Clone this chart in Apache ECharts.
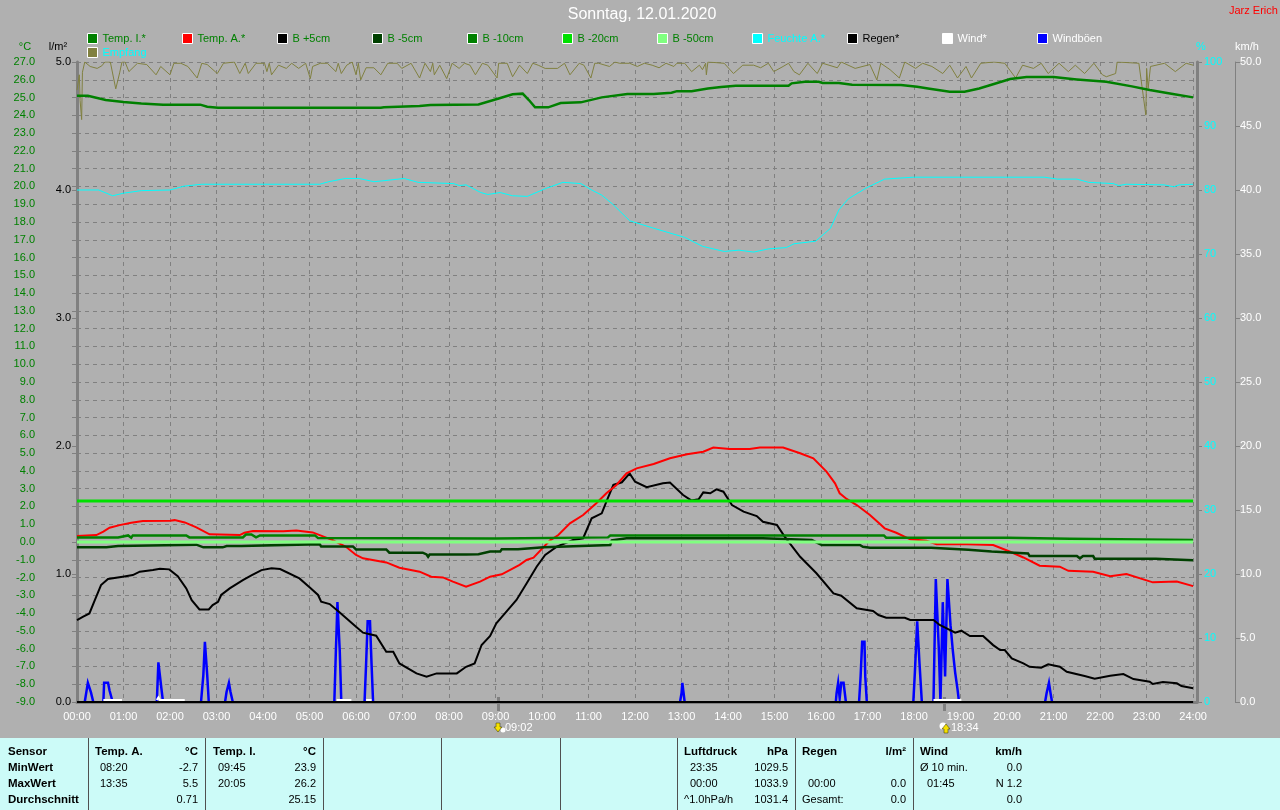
<!DOCTYPE html>
<html>
<head>
<meta charset="utf-8">
<title>Sonntag, 12.01.2020</title>
<style>
  html, body { margin: 0; padding: 0; background: #b0b0b0; }
  #chart { width: 1280px; height: 810px; }
</style>
</head>
<body>
<div id="chart"></div>
<script src="https://cdn.jsdelivr.net/npm/echarts@6/dist/echarts.min.js"></script>
<script>
// times are minutes after midnight
const tempITimes = [0,14,37,60,83,111,159,168,182,392,396,442,456,518,544,562,575,583,591,608,624,650,677,710,744,767,774,793,814,831,850,873,875,885,918,922,939,957,962,983,1000,1063,1084,1098,1126,1145,1164,1183,1204,1225,1260,1290,1328,1361,1384,1412,1440];
const tempIValues = [25.10,25.10,24.86,24.75,24.67,24.60,24.60,24.48,24.43,24.43,24.46,24.52,24.58,24.61,24.95,25.18,25.22,24.86,24.45,24.45,24.69,24.73,25.01,25.20,25.20,25.27,25.36,25.36,25.51,25.59,25.67,25.67,25.59,25.67,25.67,25.80,25.89,25.89,25.82,25.82,25.72,25.70,25.61,25.51,25.33,25.33,25.51,25.76,26.04,26.15,26.15,26.02,25.89,25.63,25.42,25.22,25.01];

const tempATimes = [0,25,34,42,55,70,85,120,126,139,154,171,210,216,227,266,283,304,330,347,360,369,399,416,442,457,472,485,502,520,533,548,571,580,589,610,621,636,653,670,683,696,709,722,744,765,787,808,821,842,868,881,911,933,950,967,978,984,993,1006,1023,1036,1042,1057,1075,1096,1109,1148,1182,1204,1221,1242,1268,1279,1311,1333,1354,1388,1419,1440];
const tempAValues = [0.34,0.39,0.58,0.80,0.95,1.08,1.18,1.20,1.23,1.10,0.82,0.43,0.39,0.52,0.62,0.60,0.64,0.54,0.11,-0.27,-0.73,-0.92,-1.15,-1.45,-1.67,-1.95,-1.99,-2.23,-2.52,-2.23,-1.95,-1.82,-1.29,-1.01,-0.88,0.08,0.39,1.05,1.52,2.18,2.74,3.21,3.86,4.14,4.39,4.71,4.93,5.08,5.31,5.23,5.23,5.31,5.31,4.99,4.71,3.96,3.30,2.74,2.42,2.08,1.52,1.01,0.77,0.52,0.15,0.07,-0.13,-0.13,-0.17,-0.55,-0.87,-1.33,-1.39,-1.62,-1.67,-1.92,-1.80,-2.27,-2.22,-2.48];

const soil5Times = [0,8,16,23,31,40,59,72,81,98,107,119,130,141,148,158,170,175,182,186,197,214,225,238,251,262,287,300,311,315,326,339,360,369,386,399,408,416,438,451,464,490,502,513,522,533,541,554,567,580,593,604,619,640,653,664,677,683,692,703,713,720,735,756,765,782,793,802,808,817,825,834,845,860,877,885,903,913,933,954,976,986,1006,1027,1034,1044,1068,1075,1105,1113,1122,1133,1141,1152,1169,1182,1191,1197,1206,1221,1229,1244,1253,1268,1277,1300,1313,1333,1350,1363,1384,1388,1401,1419,1425,1440];
const soil5Values = [-4.39,-4.20,-4.02,-3.27,-2.42,-2.08,-1.95,-1.86,-1.67,-1.58,-1.50,-1.54,-1.92,-2.61,-3.27,-3.79,-3.79,-3.55,-3.36,-2.98,-2.61,-2.14,-1.88,-1.58,-1.48,-1.52,-2.05,-2.55,-2.98,-3.36,-3.49,-3.96,-4.77,-5.10,-5.27,-6.17,-6.17,-6.83,-7.39,-7.58,-7.39,-7.39,-7.02,-6.83,-5.79,-5.29,-4.58,-3.92,-3.26,-2.33,-1.39,-0.73,-0.26,0.11,0.21,1.33,1.61,2.27,3.21,3.36,3.86,3.39,3.08,3.30,3.34,2.64,2.33,2.40,2.79,2.74,2.96,2.83,2.08,1.71,1.46,1.14,0.96,0.30,-0.83,-1.76,-2.89,-3.02,-3.73,-3.88,-4.11,-4.26,-4.26,-4.39,-4.39,-4.67,-4.86,-5.10,-4.99,-5.29,-5.29,-5.80,-6.08,-6.08,-6.55,-6.83,-7.02,-7.07,-6.88,-7.02,-7.30,-7.54,-7.69,-7.52,-7.43,-7.71,-7.86,-7.99,-7.88,-7.95,-8.10,-8.23];

const soilM5Times = [0,38,40,53,55,154,163,188,193,212,214,313,315,356,360,399,403,446,451,453,455,502,518,533,546,548,569,571,602,688,690,709,885,948,961,1010,1014,1023,1053,1062,1102,1104,1150,1152,1180,1182,1227,1229,1290,1294,1298,1311,1313,1392,1394,1440];
const soilM5Values = [-0.30,-0.30,-0.23,-0.23,-0.15,-0.15,-0.30,-0.30,-0.23,-0.23,-0.12,-0.12,-0.25,-0.25,-0.42,-0.42,-0.60,-0.60,-0.70,-0.83,-0.70,-0.70,-0.69,-0.54,-0.54,-0.41,-0.41,-0.30,-0.30,-0.17,0.09,0.21,0.21,0.11,-0.17,-0.17,-0.27,-0.32,-0.32,-0.32,-0.32,-0.43,-0.43,-0.53,-0.53,-0.64,-0.64,-0.79,-0.79,-0.92,-0.79,-0.79,-0.94,-0.94,-1.03,-1.03];

const soilM10Times = [0,53,55,66,70,72,141,145,214,218,225,231,236,307,311,539,541,685,688,1041,1044,1201,1203,1281,1283,1440];
const soilM10Values = [0.26,0.26,0.37,0.37,0.24,0.37,0.37,0.26,0.26,0.42,0.42,0.26,0.37,0.37,0.22,0.20,0.26,0.26,0.37,0.37,0.24,0.24,0.18,0.18,0.11,0.11];

const soilM20Times = [0,1440];
const soilM20Values = [2.3,2.3];
const soilM50Times = [0,1440];
const soilM50Values = [0.0,0.0];

const humidityTimes = [0,28,46,60,83,120,138,161,313,325,346,364,383,392,422,440,486,493,502,521,530,546,562,581,604,627,650,664,677,691,713,742,784,807,835,854,873,892,915,925,953,972,983,995,1018,1042,1079,1248,1265,1290,1305,1337,1344,1354,1403,1415,1422,1440];
const humidityValues = [80.0,80.0,79.1,79.5,79.9,80.0,80.6,80.9,80.9,81.3,81.8,81.8,81.3,81.4,81.8,81.2,81.0,80.7,80.8,79.6,79.3,79.6,79.1,79.0,80.2,81.2,81.0,80.0,79.2,77.8,75.2,74.1,72.6,71.2,70.4,70.6,70.3,70.8,71.0,71.6,72.0,74.0,76.9,78.6,80.3,81.7,82.0,82.0,81.7,81.7,81.2,81.0,80.7,80.9,80.8,80.5,80.8,80.9];

const signalTimes = [0,3,4,6,7,10,17,26,32,36,43,50,55,58,62,67,78,90,102,108,120,125,134,143,155,161,168,181,189,203,210,217,221,231,242,245,248,251,260,270,277,286,295,301,304,314,323,334,337,341,348,355,360,363,366,373,383,392,401,413,419,431,442,449,456,459,461,468,477,484,493,500,507,514,523,530,542,544,555,562,571,581,588,595,604,620,629,636,648,654,663,668,673,687,694,700,713,723,732,742,751,760,770,774,784,793,803,807,811,812,814,835,847,859,873,882,892,899,911,918,925,932,943,955,962,981,986,1004,1023,1032,1037,1049,1061,1068,1082,1091,1103,1117,1126,1136,1147,1154,1166,1183,1197,1211,1220,1234,1244,1253,1267,1279,1288,1300,1312,1323,1328,1340,1342,1370,1379,1380,1382,1385,1403,1417,1431,1440];
const signalValues = [95.6,98,94,91,98.4,100,99.3,99,99.4,100,100,95.8,98.3,100,100,98.5,99.8,99.6,98,99.3,98,99.8,99.8,99.3,97.5,99.8,99.6,98.2,99.8,100,98.2,99.8,98.2,99.8,99.8,98.5,99.8,98,99.5,99,99.8,99,99.8,97.4,99.3,99.8,99.8,98.5,99.8,98.2,99.5,100,98,99.8,97.2,99.1,99.1,98,99.8,99.8,99,99.8,97.5,99.8,98.5,99.8,98,99.5,97.4,99.8,99,99.8,99.5,98,99.8,99.5,97.5,99.8,99.8,97.7,99.5,98.2,99.8,99.5,99,99,99.8,98,99.8,99.5,97.5,99.8,99.8,99.3,100,99.8,99.8,99.3,99.8,99.5,99.1,99.8,99.3,99.8,99.8,98.5,99.5,98.8,99.8,98,100,99.8,98.2,99.5,99.5,99.1,99.8,98.5,99.3,99.8,98.5,98,99.8,98.2,99.8,99.1,100,99,99.6,97.2,99.8,98.8,97.5,100,99,99.8,99.3,98.2,99.5,97.5,99.3,97.5,99.8,100,99.8,97.5,99.5,99,99.8,98.2,99.8,98.5,99.5,98.2,99.8,98,97.7,98.2,100,99.8,91.7,99,95.9,99.3,99.8,98.5,99.8,99.5];

const rainTimes = [0,1440];
const rainValues = [0.0,0.0];

// null breaks the line where there was no wind
const windTimes = [34,58,59,103,105,107,139,140,335,354,355,373,380,381,1105,1141];
const windValues = [0.15,0.15,null,0.15,0.35,0.15,0.15,null,0.15,0.15,null,0.15,0.15,null,0.15,0.15];

const gustTimes = [10,12,14,16,18,21,28,34,35,40,42,46,75,103,105,107,109,111,140,160,163,165,166,168,170,180,191,193,196,198,201,270,332,334,335,336,338,339,341,355,371,373,375,378,380,382,580,778,780,781,783,784,880,979,980,982,983,984,986,989,992,1000,1009,1011,1013,1016,1017,1019,1050,1079,1081,1084,1086,1087,1090,1098,1105,1108,1110,1112,1113,1114,1117,1118,1120,1123,1125,1127,1130,1133,1136,1138,1190,1249,1251,1254,1256,1258];
const gustValues = [0,0.75,1.5,1.5,0.75,0,null,0,1.5,1.5,0.9,0,null,0,3.1,3.1,1.0,0,null,0,2.1,4.7,4.7,2.1,0,null,0,0.8,1.5,0.8,0,null,0,4.0,5.8,7.8,7.8,4.0,0,null,0,3.0,6.3,6.3,3.0,0,null,0,0.7,1.5,1.5,0,null,0,0.7,1.5,1.5,0.3,1.5,1.5,0,null,0,2.0,4.7,4.7,2.0,0,null,0,2.3,6.3,6.3,3.0,0,null,0,9.6,9.6,4.0,2.0,0,7.8,7.8,2.0,9.6,9.6,6.0,4.0,2.3,1.0,0,null,0,0.7,1.5,0.7,0];

const legendNames = ['Temp. I.*','Temp. A.*','B +5cm','B -5cm','B -10cm','B -20cm','B -50cm','Feuchte A.*','Regen*','Wind*','Windböen','Empfang'];
const legendColors = ['#008000','#ff0000','#000000','#004000','#008000','#00e000','#80ff80','#00ffff','#000000','#ffffff','#0000ff','#808040'];
const legendTextColors = ['#008000','#008000','#008000','#008000','#008000','#008000','#008000','#00ffff','#000000','#ffffff','#ffffff','#00ffff'];

const sensorRows = ['Sensor','MinWert','MaxWert','Durchschnitt'];
const columnXs = [88,205,323,441,560,677,795,913];

const zip = (times, values) => times.map((t, i) => [t, values[i]]);
const pad = (n) => String(n).padStart(2, '0');

const FONT = '"Liberation Sans", Arial, sans-serif';
const GRID = { left: 77, right: 83, top: 62, bottom: 108 };
const rowY = [752, 768, 784, 800];

const chart = echarts.init(document.getElementById('chart'));

const lineSeries = (name, times, values, color, width, yAxisIndex, z) => ({
    name, type: 'line', xAxisIndex: 0, yAxisIndex, z,
    data: zip(times, values),
    showSymbol: false, symbol: 'none', smooth: false, animation: false,
    silent: true, connectNulls: false,
    lineStyle: { color, width, cap: 'butt', join: 'miter' },
    itemStyle: { color }
});

// one legend per item, they sit on a fixed 95px raster
const legends = legendNames.map((name, i) => {
    const last = i === legendNames.length - 1;
    return {
        left: last ? 87 : 87 + i * 95,
        top: last ? 47 : 33,
        selectedMode: false,
        icon: 'rect',
        itemWidth: 10,
        itemHeight: 10,
        textStyle: { color: legendTextColors[i], fontFamily: FONT, fontSize: 11, padding: [1, 0, 0, 0] },
        itemStyle: { color: legendColors[i], borderColor: '#fff', borderWidth: 1 },
        padding: 0,
        data: [name]
    };
});

const txt = (x, y, text, fill, opts) => ({
    type: 'text', silent: true, z: 20,
    style: Object.assign({ x, y, text, fill, font: '11px ' + FONT, textAlign: 'left', textVerticalAlign: 'middle' }, opts || {})
});
const bold = { font: 'bold 11.5px ' + FONT };
const right = { textAlign: 'right' };

const panelTexts = [
    ...sensorRows.map((s, i) => txt(8, rowY[i], s, '#000', bold)),
    txt(95, rowY[0], 'Temp. A.', '#000', bold), txt(198, rowY[0], '°C', '#000', { ...bold, ...right }),
    txt(100, rowY[1], '08:20', '#000'), txt(198, rowY[1], '-2.7', '#000', right),
    txt(100, rowY[2], '13:35', '#000'), txt(198, rowY[2], '5.5', '#000', right),
    txt(198, rowY[3], '0.71', '#000', right),
    txt(213, rowY[0], 'Temp. I.', '#000', bold), txt(316, rowY[0], '°C', '#000', { ...bold, ...right }),
    txt(218, rowY[1], '09:45', '#000'), txt(316, rowY[1], '23.9', '#000', right),
    txt(218, rowY[2], '20:05', '#000'), txt(316, rowY[2], '26.2', '#000', right),
    txt(316, rowY[3], '25.15', '#000', right),
    txt(684, rowY[0], 'Luftdruck', '#000', bold), txt(788, rowY[0], 'hPa', '#000', { ...bold, ...right }),
    txt(690, rowY[1], '23:35', '#000'), txt(788, rowY[1], '1029.5', '#000', right),
    txt(690, rowY[2], '00:00', '#000'), txt(788, rowY[2], '1033.9', '#000', right),
    txt(684, rowY[3], '^1.0hPa/h', '#000'), txt(788, rowY[3], '1031.4', '#000', right),
    txt(802, rowY[0], 'Regen', '#000', bold), txt(906, rowY[0], 'l/m²', '#000', { ...bold, ...right }),
    txt(808, rowY[2], '00:00', '#000'), txt(906, rowY[2], '0.0', '#000', right),
    txt(802, rowY[3], 'Gesamt:', '#000'), txt(906, rowY[3], '0.0', '#000', right),
    txt(920, rowY[0], 'Wind', '#000', bold), txt(1022, rowY[0], 'km/h', '#000', { ...bold, ...right }),
    txt(920, rowY[1], 'Ø 10 min.', '#000'), txt(1022, rowY[1], '0.0', '#000', right),
    txt(927, rowY[2], '01:45', '#000'), txt(1022, rowY[2], 'N 1.2', '#000', right),
    txt(1022, rowY[3], '0.0', '#000', right)
];

// sunrise and sunset marks under the time axis
const sunMark = (x, iconX, label, labelX, yellowFirst) => [
    { type: 'rect', silent: true, z: 6, shape: { x: x - 1, y: 697, width: 3, height: 14 }, style: { fill: '#808080' } },
    { type: 'circle', silent: true, z: 7, shape: { cx: yellowFirst ? iconX + 5 : iconX - 3, cy: yellowFirst ? 730 : 726, r: yellowFirst ? 2.5 : 3.5 }, style: { fill: '#ffffff' } },
    { type: 'polygon', silent: true, z: 8, shape: { points: yellowFirst
        ? [[iconX - 2, 727], [iconX - 2, 723], [iconX + 2, 723], [iconX + 2, 727], [iconX + 4, 727], [iconX, 732], [iconX - 4, 727]]
        : [[iconX - 2, 729], [iconX - 2, 733], [iconX + 2, 733], [iconX + 2, 729], [iconX + 4, 729], [iconX, 724], [iconX - 4, 729]] },
      style: { fill: '#f5e000', stroke: '#303000', lineWidth: 0.5 } },
    txt(labelX, 728, label, '#fff', { font: '11px ' + FONT })
];

const option = {
    backgroundColor: '#b0b0b0',
    animation: false,
    title: [
        { text: 'Sonntag, 12.01.2020', left: 642, top: 7, padding: 0, textAlign: 'center', textStyle: { color: '#fff', fontFamily: FONT, fontSize: 16, fontWeight: 'normal' } },
        { text: 'Jarz Erich', left: 1229, top: 5, padding: 0, textStyle: { color: '#ff0000', fontFamily: FONT, fontSize: 11, fontWeight: 'normal' } }
    ],
    legend: legends,
    grid: GRID,
    xAxis: [
        {
            type: 'value', min: 0, max: 1445, interval: 60, position: 'bottom',
            axisLine: { show: false },
            axisTick: { show: true, length: 5, lineStyle: { color: '#808080' } },
            axisLabel: {
                color: '#fff', fontFamily: FONT, fontSize: 11, margin: 9,
                formatter: (v) => v % 60 === 0 ? pad(v / 60) + ':00' : ''
            },
            splitLine: { show: true, lineStyle: { color: '#808080', type: [4, 4], width: 1 } }
        },
        {
            type: 'value', min: 0, max: 1445, position: 'top',
            axisLine: { show: true, lineStyle: { color: '#808080', width: 3 } },
            axisTick: { show: false }, axisLabel: { show: false }, splitLine: { show: false }
        }
    ],
    yAxis: [
        {
            type: 'value', min: -9, max: 27, interval: 1, position: 'left', offset: 36,
            axisLine: { show: true, lineStyle: { color: '#808080', width: 1 } },
            axisTick: { show: true, length: 5, lineStyle: { color: '#808080' } },
            axisLabel: { color: '#008000', fontFamily: FONT, fontSize: 11, margin: 6, formatter: (v) => v.toFixed(1) },
            splitLine: { show: true, lineStyle: { color: '#808080', type: [4, 4], width: 1 } }
        },
        {
            type: 'value', min: 0, max: 5, interval: 1, position: 'left', offset: 0,
            axisLine: { show: true, lineStyle: { color: '#808080', width: 3 } },
            axisTick: { show: true, length: 5, lineStyle: { color: '#808080' } },
            axisLabel: { color: '#000', fontFamily: FONT, fontSize: 11, margin: 6, formatter: (v) => v.toFixed(1) },
            splitLine: { show: false }
        },
        {
            type: 'value', min: 0, max: 100, interval: 10, position: 'right', offset: 0,
            axisLine: { show: true, lineStyle: { color: '#808080', width: 3 } },
            axisTick: { show: true, length: 5, lineStyle: { color: '#808080' } },
            axisLabel: { color: '#00ffff', fontFamily: FONT, fontSize: 11, margin: 7 },
            splitLine: { show: false }
        },
        {
            type: 'value', min: 0, max: 50, interval: 5, position: 'right', offset: 38,
            axisLine: { show: true, lineStyle: { color: '#808080', width: 1 } },
            axisTick: { show: true, length: 5, lineStyle: { color: '#808080' } },
            axisLabel: { color: '#fff', fontFamily: FONT, fontSize: 11, margin: 5, formatter: (v) => v.toFixed(1) },
            splitLine: { show: false }
        }
    ],
    series: [
        lineSeries('Windböen', gustTimes, gustValues, '#0000ff', 2.5, 3, 2),
        lineSeries('Empfang', signalTimes, signalValues, '#808040', 1, 2, 3),
        lineSeries('B +5cm', soil5Times, soil5Values, '#000000', 2, 0, 4),
        lineSeries('Temp. A.*', tempATimes, tempAValues, '#ff0000', 2, 0, 5),
        lineSeries('Temp. I.*', tempITimes, tempIValues, '#008000', 2.5, 0, 6),
        lineSeries('B -5cm', soilM5Times, soilM5Values, '#004000', 2.5, 0, 6),
        lineSeries('B -10cm', soilM10Times, soilM10Values, '#008000', 2.5, 0, 7),
        lineSeries('B -20cm', soilM20Times, soilM20Values, '#00e000', 3, 0, 8),
        lineSeries('B -50cm', soilM50Times, soilM50Values, '#80ff80', 3, 0, 8),
        lineSeries('Feuchte A.*', humidityTimes, humidityValues, '#00ffff', 1, 2, 8),
        lineSeries('Wind*', windTimes, windValues, '#ffffff', 2, 3, 9),
        lineSeries('Regen*', rainTimes, rainValues, '#000000', 2, 1, 10)
    ],
    graphic: [
        // footer panel
        { type: 'rect', silent: true, z: 10, shape: { x: 0, y: 738, width: 1280, height: 72 }, style: { fill: '#ccfbf8' } },
        ...columnXs.map((x) => ({ type: 'rect', silent: true, z: 11, shape: { x, y: 738, width: 1, height: 72 }, style: { fill: '#505050' } })),
        ...panelTexts,
        // axis names
        txt(25, 47, '°C', '#008000', { textAlign: 'center' }),
        txt(58, 47, 'l/m²', '#000', { textAlign: 'center' }),
        txt(1201, 47, '%', '#00ffff', { textAlign: 'center' }),
        txt(1247, 47, 'km/h', '#fff', { textAlign: 'center' }),
        ...sunMark(498, 498, '09:02', 505, true),
        ...sunMark(944, 946, '18:34', 951, false)
    ]
};

chart.setOption(option);
window.addEventListener('resize', () => chart.resize());
</script>
</body>
</html>
